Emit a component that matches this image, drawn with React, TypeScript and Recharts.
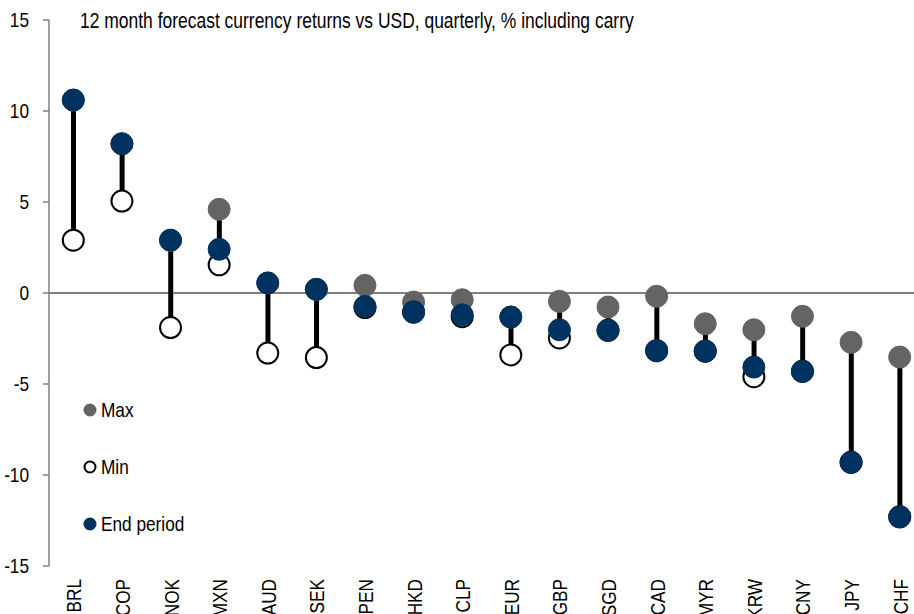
import React from "react";
import {
  ComposedChart,
  Bar,
  Line,
  XAxis,
  YAxis,
  ReferenceLine,
  Legend,
} from "recharts";

// 12m forecast returns vs USD, % incl. carry
const currencies = ["BRL", "COP", "NOK", "MXN", "AUD", "SEK", "PEN", "HKD", "CLP", "EUR", "GBP", "SGD", "CAD", "MYR", "KRW", "CNY", "JPY", "CHF"];
const maxValues = [10.6, 8.2, 2.9, 4.6, 0.55, 0.2, 0.42, -0.5, -0.37, -1.32, -0.46, -0.77, -0.18, -1.69, -2.02, -1.28, -2.71, -3.52];
const minValues = [2.9, 5.05, -1.9, 1.55, -3.3, -3.55, -0.8, -1.05, -1.3, -3.4, -2.47, -2.05, -3.17, -3.2, -4.6, -4.3, -9.3, -12.3];
const endValues = [10.6, 8.2, 2.9, 2.4, 0.55, 0.2, -0.74, -1.05, -1.2, -1.32, -2.02, -2.05, -3.17, -3.2, -4.07, -4.3, -9.3, -12.3];
const yTicks = [-15, -10, -5, 0, 5, 10, 15];

const legendItems = [
  { label: "Max", fill: "#646464", stroke: "#646464" },
  { label: "Min", fill: "#ffffff", stroke: "#000000" },
  { label: "End period", fill: "#00325F", stroke: "#00325F" },
];

// no Arial Narrow available, so squeeze Liberation Sans horizontally
const FONT = "'Liberation Sans', Arial, sans-serif";
const SQUEEZE = 0.82;
const NAVY = "#00325F";
const GREY = "#646464";

const data = currencies.map((ccy, i) => ({
  ccy,
  max: maxValues[i],
  min: minValues[i],
  end: endValues[i],
  range: [minValues[i], maxValues[i]],
}));

function RotatedTick(props: any) {
  const { x, y, payload } = props;
  return (
    <text
      transform={`translate(${x + 8}, ${y + 13}) rotate(-90) scale(${SQUEEZE}, 1)`}
      textAnchor="end"
      fontSize={21}
      fontFamily={FONT}
      fill="#000"
    >
      {payload.value}
    </text>
  );
}

function ValueTick(props: any) {
  const { x, y, payload } = props;
  return (
    <text
      transform={`translate(${x}, ${y}) scale(${SQUEEZE}, 1)`}
      textAnchor="end"
      dy="0.355em"
      fontSize={21}
      fontFamily={FONT}
      fill="#000"
    >
      {payload.value}
    </text>
  );
}

function LegendBox() {
  return (
    <div style={{ fontFamily: FONT, fontSize: 21, color: "#000" }}>
      {legendItems.map((item) => (
        <div key={item.label} style={{ height: 57, display: "flex", alignItems: "center" }}>
          <svg width={14} height={14} style={{ marginRight: 4 }}>
            <circle cx={7} cy={7} r={5.5} fill={item.fill} stroke={item.stroke} strokeWidth={2} />
          </svg>
          <span
            style={{
              display: "inline-block",
              whiteSpace: "nowrap",
              transform: `scaleX(${SQUEEZE})`,
              transformOrigin: "left center",
            }}
          >
            {item.label}
          </span>
        </div>
      ))}
    </div>
  );
}

export default function App() {
  return (
    <div
      style={{
        position: "absolute",
        left: 0,
        top: 0,
        width: 914,
        height: 614,
        overflow: "hidden",
        background: "#fff",
      }}
    >
      <ComposedChart
        width={930}
        height={640}
        data={data}
        margin={{ top: 20, right: 6, bottom: 0, left: 0 }}
      >
        <XAxis
          dataKey="ccy"
          interval={0}
          axisLine={false}
          tickLine={false}
          tickSize={0}
          tickMargin={0}
          height={74}
          tick={<RotatedTick />}
        />
        <YAxis
          domain={[-15, 15]}
          ticks={yTicks}
          width={49}
          tickSize={6}
          tickMargin={14}
          axisLine={{ stroke: "#808080", strokeWidth: 1.5 }}
          tickLine={{ stroke: "#808080", strokeWidth: 1.5 }}
          tick={<ValueTick />}
        />
        <ReferenceLine y={0} stroke="#000" strokeWidth={1.2} />
        <Bar dataKey="range" barSize={5} fill="#000" isAnimationActive={false} legendType="none" />
        <Line
          dataKey="max"
          stroke="none"
          dot={{ r: 11, fill: GREY, stroke: GREY, strokeWidth: 1 }}
          activeDot={false}
          isAnimationActive={false}
        />
        <Line
          dataKey="min"
          stroke="none"
          dot={{ r: 10.5, fill: "#fff", stroke: "#000", strokeWidth: 2 }}
          activeDot={false}
          isAnimationActive={false}
        />
        <Line
          dataKey="end"
          stroke="none"
          dot={{ r: 11, fill: NAVY, stroke: NAVY, strokeWidth: 1 }}
          activeDot={false}
          isAnimationActive={false}
        />
        <Legend
          layout="vertical"
          align="center"
          verticalAlign="middle"
          content={<LegendBox />}
          wrapperStyle={{ left: 83, top: 381, width: 200, height: 171 }}
        />
      </ComposedChart>
      <svg
        width={914}
        height={40}
        style={{ position: "absolute", left: 0, top: 0, pointerEvents: "none" }}
      >
        <text
          transform={`translate(80, 28) scale(${SQUEEZE}, 1)`}
          fontSize={21.3}
          fontFamily={FONT}
          fill="#000"
        >
          12 month forecast currency returns vs USD, quarterly, % including carry
        </text>
      </svg>
    </div>
  );
}
